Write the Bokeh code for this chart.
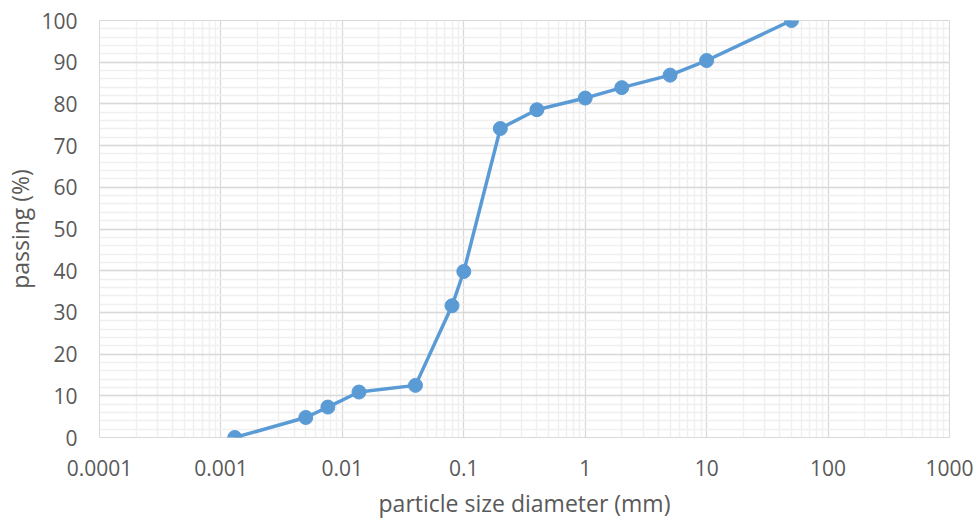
from bokeh.plotting import figure
from bokeh.models import FixedTicker, CustomJSTickFormatter, ColumnDataSource
from bokeh.embed import file_html
from bokeh.resources import INLINE

# data
size_mm = [0.0013, 0.005, 0.0076, 0.0137, 0.04, 0.08, 0.1, 0.2, 0.4, 1, 2, 5, 10, 50]
passing = [0, 4.8, 7.3, 10.9, 12.5, 31.6, 39.8, 74.1, 78.6, 81.4, 83.9, 86.9, 90.4, 100]
x_ticks = [0.0001, 0.001, 0.01, 0.1, 1, 10, 100, 1000]
y_ticks = [0, 10, 20, 30, 40, 50, 60, 70, 80, 90, 100]

x_minor = [m * d for d in x_ticks[:-1] for m in range(2, 10)]
y_minor = [v for v in range(0, 101, 2)]

FONT = "Open Sans"
BLUE = "#5b9bd5"

p = figure(width=974, height=523, x_axis_type="log",
           x_range=(0.0001, 1000), y_range=(0, 100),
           output_backend="svg", toolbar_location=None,
           min_border_left=99, min_border_right=25,
           min_border_top=20, min_border_bottom=86)
p.outline_line_color = "#d9d9d9"
p.outline_line_width = 1

p.xaxis.ticker = FixedTicker(ticks=x_ticks, minor_ticks=x_minor)
p.yaxis.ticker = FixedTicker(ticks=y_ticks, minor_ticks=y_minor)
p.xaxis.formatter = CustomJSTickFormatter(code="return tick.toString();")

for g in (p.xgrid, p.ygrid):
    g.grid_line_color = "#d9d9d9"
    g.grid_line_width = 1.3
    g.minor_grid_line_color = "#f0f0f0"
    g.minor_grid_line_width = 1.5

for ax in (p.xaxis, p.yaxis):
    ax.axis_line_color = None
    ax.major_tick_line_color = None
    ax.minor_tick_line_color = None
    ax.major_label_text_font = FONT
    ax.major_label_text_font_size = "21px"
    ax.major_label_text_color = "#595959"
    ax.axis_label_text_font = FONT
    ax.axis_label_text_font_size = "23px"
    ax.axis_label_text_color = "#595959"
    ax.axis_label_text_font_style = "normal"

p.xaxis.axis_label = "particle size diameter (mm)"
p.yaxis.axis_label = "passing (%)"
p.xaxis.major_label_standoff = 16
p.yaxis.major_label_standoff = 16
p.xaxis.axis_label_standoff = 8
p.yaxis.axis_label_standoff = 2

src = ColumnDataSource(dict(x=size_mm, y=passing))
p.line("x", "y", source=src, line_color=BLUE, line_width=3.5)
p.scatter("x", "y", source=src, size=14, fill_color=BLUE, line_color=BLUE)

open("out.html", "w").write(file_html(p, INLINE))
